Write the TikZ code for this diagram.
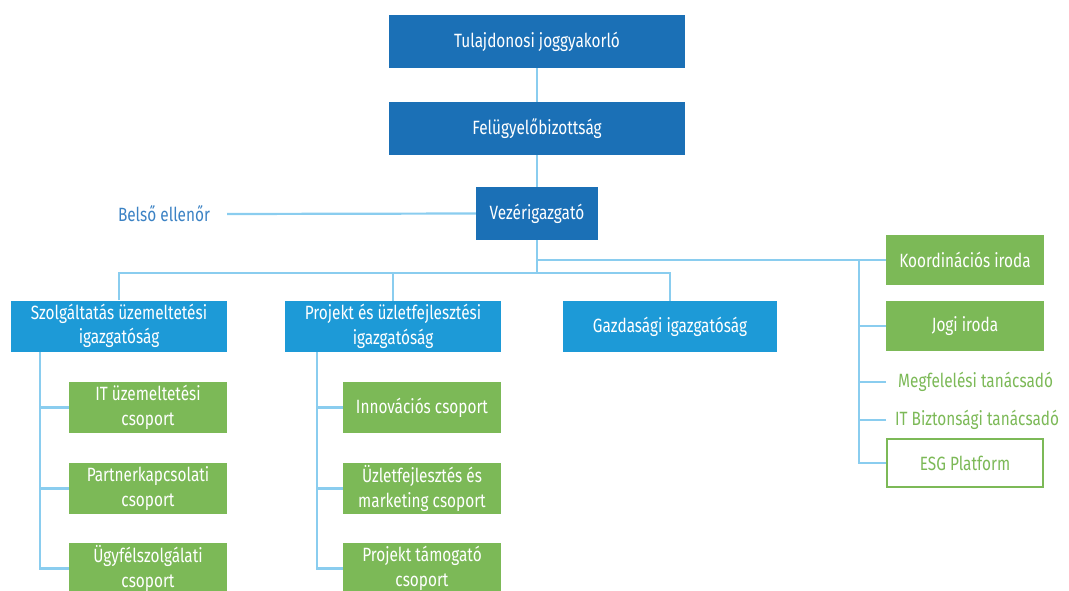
\documentclass[tikz,border=0pt]{standalone}
\usepackage{fontspec}
\setmainfont{Fira Sans}[FakeStretch=0.80]
\usetikzlibrary{calc}
\definecolor{dblue}{HTML}{1B70B6}
\definecolor{mblue}{HTML}{1D9AD7}
\definecolor{gr}{HTML}{7CB957}
\definecolor{ln}{HTML}{8ACDEF}
\definecolor{txtblue}{HTML}{3B82C4}
\begin{document}
\begin{tikzpicture}[x=1pt,y=-1pt,
  box/.style={rectangle,inner sep=0pt,align=center,text=white,font=\fontsize{19.2}{24.5}\selectfont},
  topbox/.style={box,fill=dblue,minimum width=296pt,minimum height=53pt},
  dirbox/.style={box,fill=mblue,minimum width=216pt,minimum height=51pt},
  grbox/.style={box,fill=gr,minimum width=158pt,minimum height=51pt},
  outbox/.style={box,draw=gr,line width=2pt,fill=white,text=gr,minimum width=156pt,minimum height=48pt},
  conn/.style={draw=ln,line width=2.2pt},
  gtext/.style={text=gr,font=\fontsize{19.2}{24.5}\selectfont,inner sep=0pt},
]
\useasboundingbox (0,0) rectangle (1069,591);
% top chain
\node[topbox] (tul) at (537,41.5) {Tulajdonosi joggyakorló};
\node[topbox] (fel) at (537,128.5) {Felügyelőbizottság};
\node[box,fill=dblue,minimum width=122pt,minimum height=53pt] (vez) at (537,213.5) {Vezérigazgató};
\node[text=txtblue,font=\fontsize{19.2}{24.5}\selectfont,inner sep=0pt] (bel) at (164,214) {Belső ellenőr};
% directorates
\node[dirbox] (szo) at (119,326) {Szolgáltatás üzemeltetési\\igazgatóság};
\node[dirbox] (pro) at (393,326.5) {Projekt és üzletfejlesztési\\igazgatóság};
\node[box,fill=mblue,minimum width=214pt,minimum height=51pt] (gaz) at (670,326.5) {Gazdasági igazgatóság};
% left groups
\node[grbox] (l1) at (148,407.5) {IT üzemeltetési\\csoport};
\node[grbox] (l2) at (148,488.5) {Partnerkapcsolati\\csoport};
\node[grbox,minimum height=52pt] (l3) at (148,568.5) {Ügyfélszolgálati\\csoport};
% middle groups
\node[grbox] (m1) at (422,407.5) {Innovációs csoport};
\node[grbox] (m2) at (422,488.5) {Üzletfejlesztés és\\marketing csoport};
\node[grbox,minimum height=52pt] (m3) at (422,568.5) {Projekt támogató\\csoport};
% right staff
\node[grbox,minimum height=50pt] (koo) at (965,260) {Koordinációs iroda};
\node[grbox,minimum height=50pt] (jog) at (965,326) {Jogi iroda};
\node[gtext,anchor=west] (meg) at (898,382) {Megfelelési tanácsadó};
\node[gtext,anchor=west] (itb) at (895,420) {IT Biztonsági tanácsadó};
\node[outbox] (esg) at (965,463) {ESG Platform};
% coordinates
\coordinate (bus) at (537,273);
\coordinate (rbus) at (537,260);
\coordinate (rsp) at (859,260);
\coordinate (lsp) at (40,352);
\coordinate (msp) at (317,352);
\coordinate (belend) at (227,214);
% connectors
\draw[conn] (tul.south) -- (fel.north);
\draw[conn] (fel.south) -- (vez.north);
\draw[conn] (vez.west) -- (belend);
\draw[conn] (vez.south) -- (bus);
\draw[conn] (szo.north) |- (bus) -| (gaz.north);
\draw[conn] (pro.north) -- (pro.north |- bus);
\draw[conn] (rbus) -- (koo.west);
\draw[conn] (rsp) |- (esg.west);
\draw[conn] (jog.west) -- (jog.west -| rsp);
\draw[conn] ($(meg.west)+(-12,0)$) -- (meg.west -| rsp);
\draw[conn] ($(itb.west)+(-9,0)$) -- (itb.west -| rsp);
\draw[conn] (lsp) |- (l3.west);
\draw[conn] (l1.west) -- (l1.west -| lsp);
\draw[conn] (l2.west) -- (l2.west -| lsp);
\draw[conn] (msp) |- (m3.west);
\draw[conn] (m1.west) -- (m1.west -| msp);
\draw[conn] (m2.west) -- (m2.west -| msp);
\end{tikzpicture}
\end{document}
